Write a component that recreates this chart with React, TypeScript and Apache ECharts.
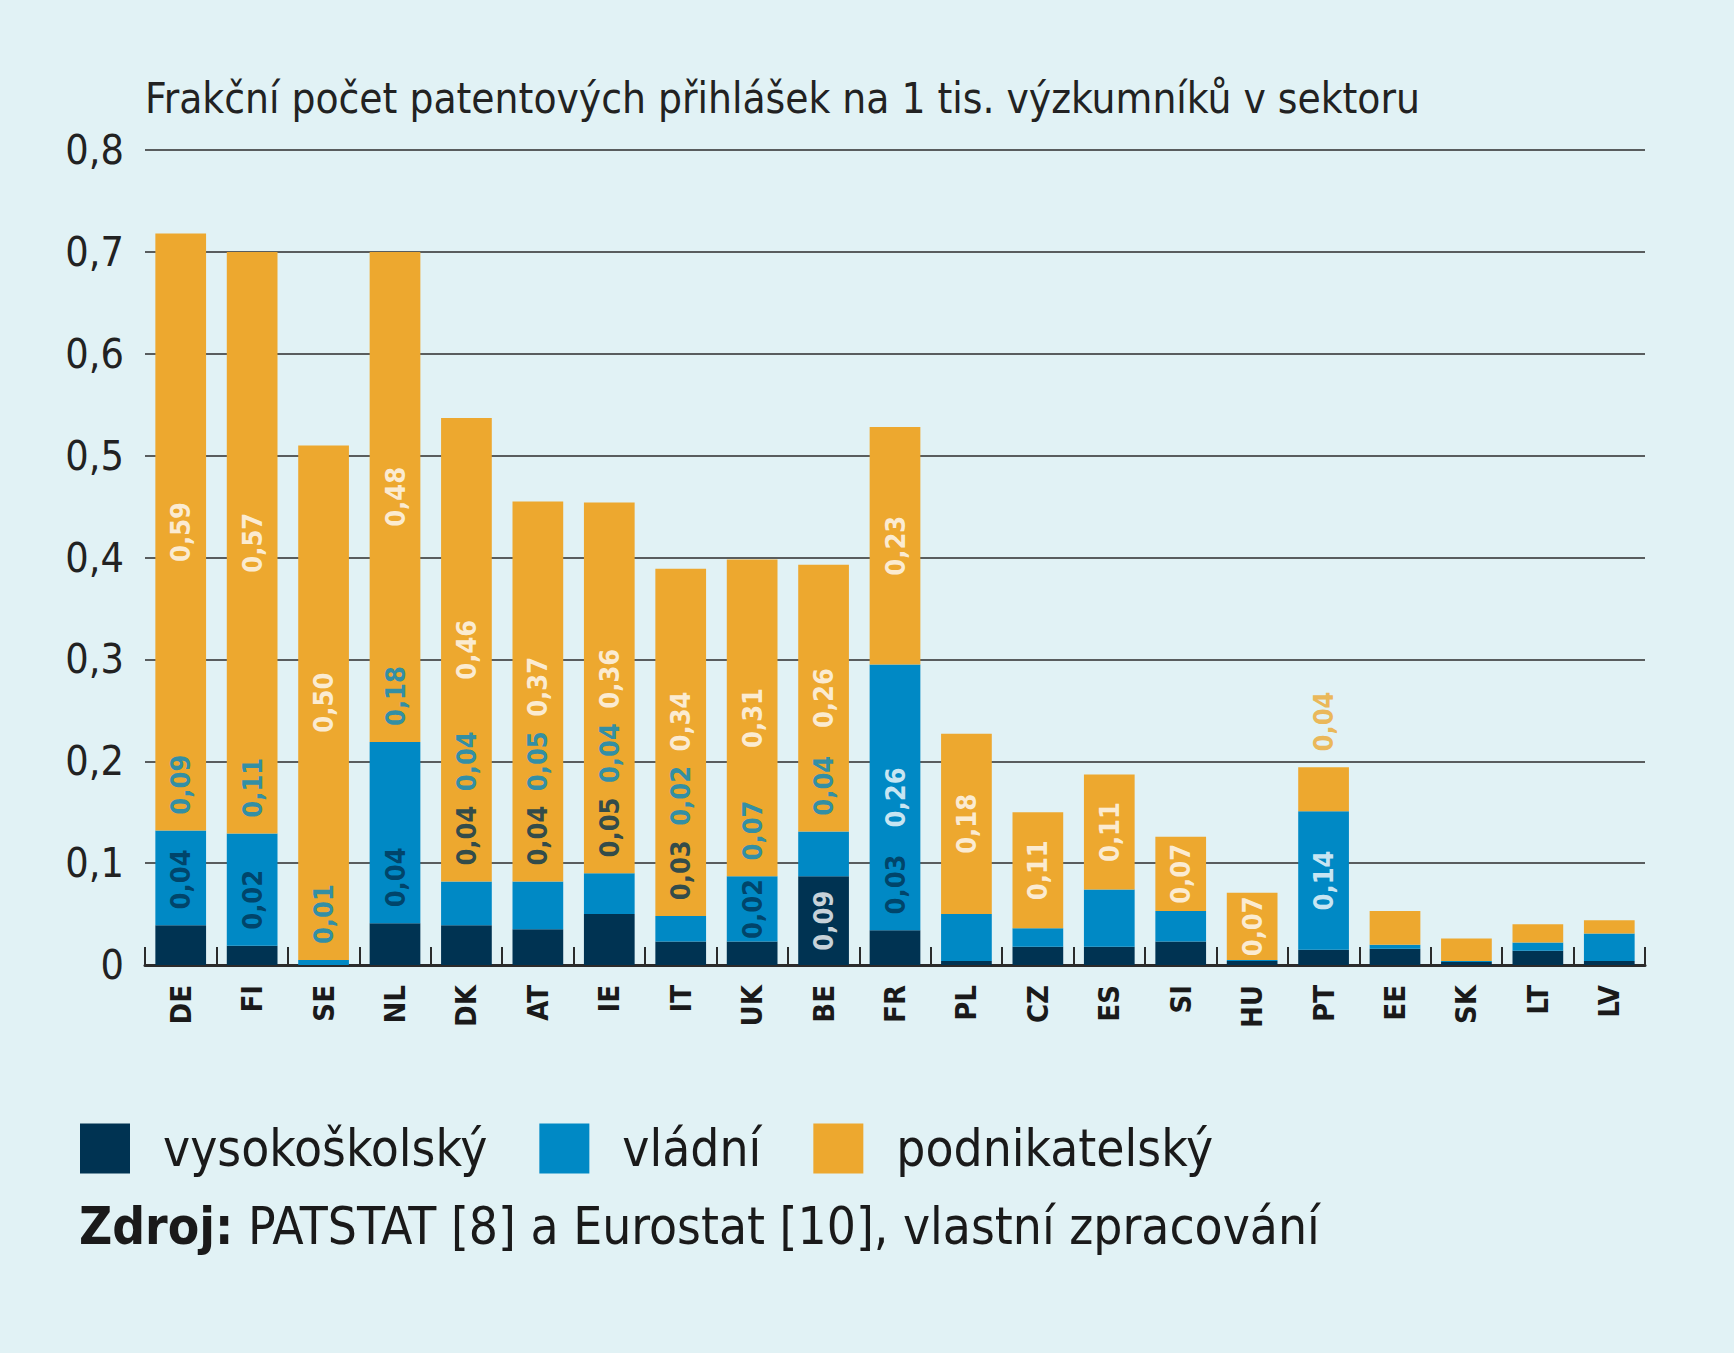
import React, { useEffect, useRef } from 'react';
import * as echarts from 'echarts';

const countries = ['DE', 'FI', 'SE', 'NL', 'DK', 'AT', 'IE', 'IT', 'UK', 'BE', 'FR', 'PL', 'CZ', 'ES', 'SI', 'HU', 'PT', 'EE', 'SK', 'LT', 'LV'];
const vysokoskolsky = [0.039, 0.019, 0, 0.041, 0.039, 0.035, 0.05, 0.023, 0.023, 0.087, 0.034, 0.004, 0.018, 0.018, 0.023, 0.004, 0.015, 0.016, 0.003, 0.014, 0.004];
const vladni = [0.093, 0.11, 0.005, 0.178, 0.043, 0.047, 0.04, 0.025, 0.064, 0.044, 0.261, 0.046, 0.018, 0.056, 0.03, 0.001, 0.136, 0.004, 0.001, 0.008, 0.027];
const podnikatelsky = [0.586, 0.571, 0.505, 0.481, 0.455, 0.373, 0.364, 0.341, 0.311, 0.262, 0.233, 0.177, 0.114, 0.113, 0.073, 0.066, 0.043, 0.033, 0.022, 0.018, 0.013];

// published values written in the bars (null = no label)
const vysLabels = [0.04, 0.02, null, 0.04, 0.04, 0.04, 0.05, 0.03, 0.02, 0.09, 0.03, null, null, null, null, null, null, null, null, null, null];
const vlaLabels = [0.09, 0.11, 0.01, 0.18, 0.04, 0.05, 0.04, 0.02, 0.07, 0.04, 0.26, null, null, null, null, null, 0.14, null, null, null, null];
const podLabels = [0.59, 0.57, 0.5, 0.48, 0.46, 0.37, 0.36, 0.34, 0.31, 0.26, 0.23, 0.18, 0.11, 0.11, 0.07, 0.07, 0.04, null, null, null, null];

const seriesNames = ['vysokoškolský', 'vládní', 'podnikatelský'];
const titleText = 'Frakční počet patentových přihlášek na 1 tis. výzkumníků v sektoru';
const sourceBold = 'Zdroj:';
const sourceText = ' PATSTAT [8] a Eurostat [10], vlastní zpracování';

const NAVY = '#003352';
const BLUE = '#0089c5';
const ORANGE = '#eda82f';
const BG = '#e1f2f5';
const FONT = '"DejaVu Sans Condensed", "Liberation Sans Narrow", "DejaVu Sans", sans-serif';

// label layout constants in value units
const FIT = 0.06; // segment tall enough to hold a label
const OFF = 0.045; // distance from segment top to label centre when placed above
const SPACE = 0.073; // minimal distance between label centres
const HALF = 0.028; // half label length

const fmt = (v: number) => v.toFixed(2).replace('.', ',');

function buildLabels() {
  const pts: any[] = [];
  countries.forEach((c, i) => {
    const d = vysokoskolsky[i];
    const b = vladni[i];
    const o = podnikatelsky[i];
    let prev = -Infinity;
    if (vysLabels[i] != null) {
      let y: number;
      let color = NAVY;
      if (d >= FIT) {
        y = d / 2;
        color = '#ffffff';
      } else if (b >= FIT) {
        y = Math.min(d + OFF, d + b / 2);
      } else {
        y = d + b + OFF;
      }
      y = Math.max(y, prev + SPACE);
      prev = y;
      pts.push({ value: [i, y], text: fmt(vysLabels[i] as number), label: { color } });
    }
    if (vlaLabels[i] != null) {
      let y: number;
      let color = BLUE;
      const centre = d + b / 2;
      if (b >= FIT && centre - prev >= SPACE) {
        y = centre;
        color = '#ffffff';
      } else {
        y = d + b + OFF;
      }
      y = Math.max(y, prev + SPACE);
      prev = y;
      pts.push({ value: [i, y], text: fmt(vlaLabels[i] as number), label: { color } });
    }
    if (podLabels[i] != null) {
      const top = d + b + o;
      let y = o >= FIT ? d + b + o / 2 : top + OFF;
      y = Math.max(y, prev + SPACE);
      const color = y + HALF <= top ? '#ffffff' : ORANGE;
      prev = y;
      pts.push({ value: [i, y], text: fmt(podLabels[i] as number), label: { color } });
    }
  });
  return pts;
}

export default function App() {
  const ref = useRef<HTMLDivElement>(null);
  useEffect(() => {
    if (!ref.current) return;
    const chart = echarts.init(ref.current, null, { renderer: 'svg' });
    const barBase = { type: 'bar', stack: 'total', barCategoryGap: '29%', silent: true };
    chart.setOption({
      animation: false,
      backgroundColor: BG,
      textStyle: { fontFamily: FONT },
      title: {
        text: titleText,
        left: 140,
        top: 72,
        textStyle: { fontFamily: FONT, fontSize: 42, fontWeight: 'normal', color: '#222222' },
      },
      grid: { left: 145, right: 89, top: 150, bottom: 388, containLabel: false },
      legend: {
        data: seriesNames,
        left: 75,
        top: 1118,
        icon: 'rect',
        itemWidth: 50,
        itemHeight: 50,
        itemGap: 52,
        textStyle: { fontFamily: FONT, fontSize: 51, color: '#1a1a1a', padding: [0, 0, 0, 28] },
      },
      xAxis: {
        type: 'category',
        data: countries,
        boundaryGap: true,
        axisLine: { show: true, lineStyle: { color: '#2b2b2b', width: 3 } },
        axisTick: { show: true, inside: true, length: 18, lineStyle: { color: '#2b2b2b', width: 2 } },
        axisLabel: {
          rotate: 90,
          margin: 20,
          fontFamily: FONT,
          fontSize: 29,
          fontWeight: 'bold',
          color: '#1a1a1a',
        },
      },
      yAxis: {
        type: 'value',
        min: 0,
        max: 0.8,
        interval: 0.1,
        axisLine: { show: false },
        axisTick: { show: false },
        axisLabel: {
          margin: 21,
          fontFamily: FONT,
          fontSize: 41,
          color: '#222222',
          formatter: (v: number) => (v === 0 ? '0' : v.toFixed(1).replace('.', ',')),
        },
        splitLine: { show: true, lineStyle: { color: '#2b2b2b', width: 1.5 } },
      },
      series: [
        { ...barBase, name: seriesNames[0], data: vysokoskolsky, itemStyle: { color: NAVY } },
        { ...barBase, name: seriesNames[1], data: vladni, itemStyle: { color: BLUE } },
        { ...barBase, name: seriesNames[2], data: podnikatelsky, itemStyle: { color: ORANGE } },
        {
          type: 'scatter',
          name: 'labels',
          silent: true,
          symbol: 'rect',
          symbolSize: 1,
          itemStyle: { color: 'rgba(0,0,0,0)' },
          z: 10,
          data: buildLabels(),
          label: {
            show: true,
            position: 'inside',
            rotate: 90,
            fontFamily: FONT,
            fontSize: 27,
            fontWeight: 'bold',
            formatter: (p: any) => p.data.text,
          },
        },
      ],
      graphic: [
        {
          type: 'text',
          left: 79,
          top: 1201,
          style: {
            text: '{b|' + sourceBold + '}{n|' + sourceText + '}',
            rich: {
              b: { fontFamily: FONT, fontSize: 51, fontWeight: 'bold', fill: '#1a1a1a' },
              n: { fontFamily: FONT, fontSize: 51, fill: '#1a1a1a' },
            },
          },
        },
      ],
    });
    return () => chart.dispose();
  }, []);
  return (
    <div style={{ position: 'absolute', left: 0, top: 0, width: 1734, height: 1353, background: BG }}>
      <div ref={ref} style={{ width: 1734, height: 1353 }} />
    </div>
  );
}
